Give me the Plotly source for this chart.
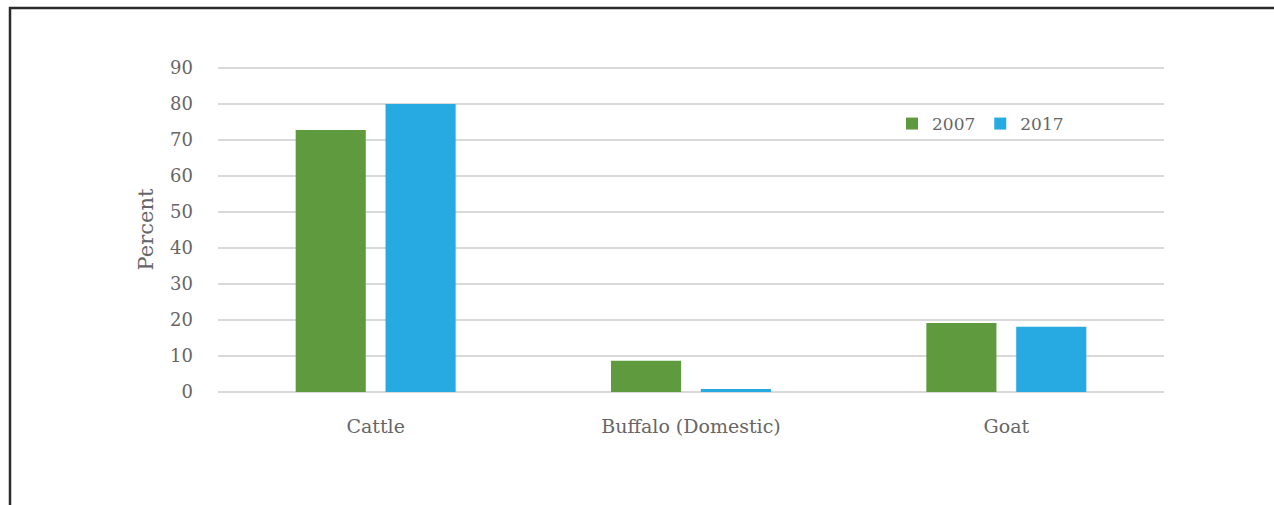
import plotly.graph_objects as go

categories = ["Cattle", "Buffalo (Domestic)", "Goat"]
series_names = ["2007", "2017"]
values_2007 = [72.8, 8.7, 19.2]
values_2017 = [80.0, 0.8, 18.1]
y_ticks = [0, 10, 20, 30, 40, 50, 60, 70, 80, 90]

GREEN = "#609A3F"
BLUE = "#27AAE1"
TEXT = "#666666"
FONT = "DejaVu Serif"

W, H = 1274, 505
L, R, T, B = 218, 110, 67, 113
pw, ph = W - L - R, H - T - B

fig = go.Figure()
for name, vals, col in [(series_names[0], values_2007, GREEN),
                        (series_names[1], values_2017, BLUE)]:
    fig.add_trace(go.Bar(x=categories, y=vals, name=name,
                         marker=dict(color=col, line=dict(width=0))))

# outer frame: left and top edges visible, others run off the page
fig.add_shape(type="rect", xref="paper", yref="paper",
              x0=(10 - L) / pw, x1=(W + 20 - L) / pw,
              y0=-(H + 20 - T - ph) / ph, y1=1 + (T - 8) / ph,
              line=dict(color="#2b2b2b", width=2.5), fillcolor="rgba(0,0,0,0)",
              layer="below")

fig.update_layout(
    width=W, height=H,
    margin=dict(l=L, r=R, t=T, b=B, pad=0),
    paper_bgcolor="white", plot_bgcolor="white",
    barmode="group", bargap=0.43, bargroupgap=0.22,
    font=dict(family=FONT, size=17, color=TEXT),
    showlegend=True,
    legend=dict(orientation="h", x=(892 - L) / pw, y=(392 - 124) / ph,
                xanchor="left", yanchor="middle",
                font=dict(family=FONT, size=17, color=TEXT),
                bgcolor="rgba(0,0,0,0)", itemwidth=30,
                traceorder="normal"),
    xaxis=dict(showgrid=False, showline=False, ticks="",
               tickfont=dict(family=FONT, size=19, color=TEXT),
               ticklabelstandoff=21),
    yaxis=dict(range=[0, 90.3], tickvals=y_ticks, showgrid=True,
               gridcolor="#d9d9d9", gridwidth=2,
               zeroline=True, zerolinecolor="#d9d9d9", zerolinewidth=2,
               showline=False, ticks="",
               tickfont=dict(family=FONT, size=18, color=TEXT),
               ticklabelstandoff=24,
               title=dict(text="Percent", standoff=10,
                          font=dict(family=FONT, size=21, color=TEXT))),
)

fig.write_html("out.html")
